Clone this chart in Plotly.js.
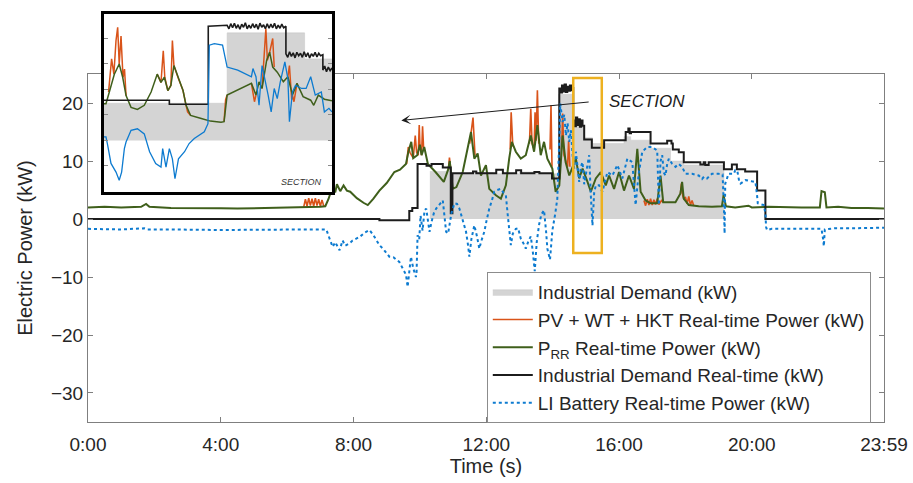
<!DOCTYPE html>
<html>
<head>
<meta charset="utf-8">
<script src="https://cdn.plot.ly/plotly-3.0.1.min.js"></script>
<style>html,body{margin:0;padding:0;background:#fff;}#chart{width:913px;height:483px;}</style>
</head>
<body>
<div id="chart"></div>
<script>
// ---------- tick labels ----------
var xTickVals = [0, 4, 8, 12, 16, 20, 23.983];
var xTickText = ['0:00', '4:00', '8:00', '12:00', '16:00', '20:00', '23:59'];
var yTickVals = [-30, -20, -10, 0, 10, 20];
var yTickText = ['\u221230', '\u221220', '\u221210', '0', '10', '20'];

// ---------- main chart series (time in hours, power in kW) ----------
// Industrial Demand (kW) - grey area
var demandT  = [10.3, 10.9, 11.5, 12.2, 13.0, 13.6, 14.18, 14.62, 14.95, 15.2, 16.15, 16.35, 16.95, 17.55, 17.95, 19.16];
var demandKW = [8.2, 7.8, 8.0, 7.8, 8.1, 7.8, 21.5, 16.0, 14.0, 13.0, 14.2, 13.6, 12.2, 10.0, 9.3, 0];

// PV + WT + HKT Real-time Power (kW) - only visible parts above P_RR (null = hidden under P_RR)
var renewT  = [6.5, 6.55, 6.6, 6.65, 6.7, 6.75, 6.8, 6.85, 6.9, 6.95, 7.0, 7.05, 7.1, 7.15, null,
               9.6, 9.65, 9.7, 9.8, 9.86, 9.9, 9.95, 9.98, 10.0, 10.05, 10.08, 10.11, 10.14, null,
               10.86, 10.89, 10.92, null,
               11.5, 11.6, 11.66, null,
               12.72, 12.75, 12.8, null,
               13.3, 13.34, 13.38, 13.44, 13.47, 13.5, 13.54, 13.58, null,
               13.92, 13.95, 13.98, null,
               14.27, 14.3, 14.34, 14.45, 14.48, 14.52, null,
               16.75, 16.8, 16.85, 16.9, 16.95, 17.0, 17.05, 17.1, 17.15, 17.2, 17.28, 17.33, null,
               17.85, 17.88, 17.92, 17.95, 18.0, 18.05, 18.1, 18.15, 18.2, 18.25];
var renewKW = [2.1, 3.4, 2.2, 3.6, 2.3, 3.5, 2.2, 3.6, 2.3, 3.4, 2.2, 3.3, 2.3, 2.2, null,
               9.5, 12.4, 11.5, 10.5, 14.4, 11.5, 11.0, 16.2, 12.8, 11.0, 16.0, 12.4, 12.0, null,
               8.5, 10.6, 9.0, null,
               13.0, 17.5, 11.0, null,
               12.0, 18.4, 12.5, null,
               13.0, 19.0, 13.0, 12.0, 18.4, 13.5, 22.2, 13.0, null,
               12.0, 19.6, 9.0, null,
               12.0, 18.2, 11.0, 9.0, 13.5, 9.0, null,
               3.2, 2.3, 3.4, 2.4, 3.5, 2.4, 3.3, 2.5, 3.5, 2.5, 3.2, 2.9, null,
               4.4, 6.1, 4.0, 3.5, 3.8, 2.6, 3.9, 2.4, 3.2, 2.3];

// P_RR Real-time Power (kW)
var prrT  = [0, 0.5, 1.0, 1.6, 1.75, 1.85, 2.5, 3.0, 3.5, 4.0, 4.5, 5.0, 5.5, 6.0, 6.5, 7.0, 7.15, 7.25, 7.35, 7.45, 7.5, 7.6, 7.7, 7.8, 7.9,
             8.1, 8.3, 8.43, 8.6, 8.78, 9.0, 9.23, 9.4, 9.58, 9.65, 9.74, 9.8, 9.92, 10.0, 10.05, 10.13, 10.24, 10.47, 10.72, 10.85, 10.9,
             10.99, 11.1, 11.29, 11.39, 11.54, 11.64, 11.74, 11.84, 11.99, 12.09, 12.29, 12.44, 12.59, 12.69, 12.77, 12.89, 13.04, 13.19,
             13.34, 13.44, 13.54, 13.64, 13.74, 13.84, 13.99, 14.09, 14.2, 14.3, 14.39, 14.5, 14.65, 14.7, 14.8, 14.9, 15.05, 15.15, 15.3,
             15.45, 15.6, 15.7, 15.85, 16.0, 16.15, 16.3, 16.45, 16.55, 16.65, 16.8, 16.95, 17.15, 17.25, 17.33, 17.5, 17.7, 17.85, 17.9,
             17.95, 18.1, 18.4, 18.8, 19.1, 19.15, 19.22, 19.5, 19.9, 20.0, 20.5, 21.0, 21.5, 22.05, 22.1, 22.2, 22.25, 22.6, 23.0, 23.5, 23.983];
var prrKW = [2.0, 2.1, 2.0, 2.1, 2.6, 2.1, 1.9, 1.9, 1.95, 1.85, 1.8, 1.85, 1.95, 2.0, 2.1, 2.1, 2.2, 3.5, 5.3, 4.6, 6.0, 4.8, 5.8, 4.9, 4.7,
             3.6, 2.8, 2.4, 3.5, 4.9, 6.2, 8.1, 8.5, 9.5, 11.5, 13.3, 10.5, 11.0, 12.8, 11.0, 12.4, 9.5, 8.1, 6.4, 8.5, 10.0,
             5.2, 5.5, 8.1, 11.0, 15.0, 10.4, 11.3, 7.5, 9.3, 5.2, 4.1, 3.5, 5.8, 10.4, 13.3, 11.6, 10.4, 11.0,
             14.4, 11.6, 16.2, 11.0, 13.3, 10.4, 8.7, 4.7, 5.8, 14.4, 9.8, 7.5, 9.8, 10.4, 7.0, 8.7, 6.4, 4.7, 7.0,
             8.1, 5.8, 7.5, 5.2, 8.1, 4.9, 7.5, 5.2, 12.1, 4.7, 3.2, 2.7, 2.7, 7.5, 2.9, 2.9, 2.9, 4.4, 6.4,
             3.5, 2.4, 2.2, 2.1, 2.2, 4.1, 2.2, 2.0, 2.3, 2.0, 2.1, 2.0, 2.0, 2.0, 4.8, 4.6, 2.0, 2.1, 1.9, 1.9, 1.8];

// Industrial Demand Real-time (kW)
var demandRtT  = [0, 8.78, 9.68, 9.77, 9.93, 10.2, 10.35, 10.69, 10.93, 10.98, 11.6, 11.7, 12.3, 12.5, 12.9, 13.05, 13.45, 13.6, 13.98,
                  14.2, 14.25, 14.28, 14.32, 14.36, 14.4, 14.44, 14.48, 14.52, 14.56, 14.6,
                  14.62, 14.66, 14.7, 14.74, 14.78, 14.82, 14.86, 14.9,
                  14.95, 15.18, 15.55, 16.2, 16.28, 16.32, 16.36, 16.95, 17.45, 17.58, 17.62, 17.8, 17.95, 18.45, 18.55, 18.6, 18.7,
                  19.16, 19.4, 19.55, 19.8, 20.16, 20.41, 23.983];
var demandRtKW = [0, -0.2, 1.4, 1.9, 9.5, 9.2, 9.5, 8.9, 1.0, 7.9, 8.2, 7.9, 8.5, 7.9, 8.4, 7.9, 8.1, 7.9, 7.0,
                  22.5, 21.8, 23.0, 22.0, 23.2, 21.9, 22.8, 22.1, 23.0, 22.2, 22.6,
                  17.0, 16.0, 17.5, 16.2, 17.2, 15.9, 17.0, 16.1,
                  13.7, 12.3, 13.6, 15.0, 15.6, 14.8, 15.0, 13.0, 13.5, 13.0, 12.0, 11.5, 9.8, 9.4, 9.8, 9.3, 9.8,
                  8.6, 9.4, 8.6, 8.2, 4.9, 0, 0];

// LI Battery Real-time Power (kW)
var batteryT  = [0, 0.5, 1.0, 1.7, 1.8, 2.5, 3.0, 4.0, 5.0, 6.0, 6.5, 7.0, 7.18, 7.28, 7.37, 7.45, 7.58, 7.67, 7.75, 7.88, 7.97, 8.18, 8.35,
                 8.48, 8.6, 8.78, 8.9, 9.08, 9.2, 9.38, 9.5, 9.58, 9.63, 9.68, 9.73, 9.8, 9.88, 9.9, 9.93, 9.98, 10.02, 10.08, 10.14,
                 10.19, 10.25, 10.29, 10.35, 10.42, 10.49, 10.6, 10.69, 10.74, 10.79, 10.85, 10.89, 10.95, 11.04, 11.12, 11.19, 11.3,
                 11.39, 11.45, 11.49, 11.55, 11.64, 11.72, 11.79, 11.85, 11.94, 12.0, 12.09, 12.17, 12.24, 12.33, 12.44, 12.52, 12.59,
                 12.65, 12.74, 12.8, 12.89, 12.96, 13.04, 13.12, 13.19, 13.27, 13.34, 13.4, 13.46, 13.52, 13.59, 13.66, 13.74, 13.8,
                 13.84, 13.92, 13.99, 14.08, 14.14, 14.19, 14.23, 14.3, 14.35, 14.4, 14.45, 14.5, 14.55, 14.6, 14.65, 14.7, 14.8, 14.85,
                 14.9, 14.95, 15.0, 15.1, 15.15, 15.2, 15.25, 15.3, 15.4, 15.5, 15.65, 15.8, 15.95, 16.1, 16.25, 16.4, 16.45, 16.5,
                 16.55, 16.6, 16.7, 16.85, 17.0, 17.15, 17.2, 17.25, 17.3, 17.35, 17.4, 17.45, 17.5, 17.6, 17.7, 17.8, 17.9, 18.0,
                 18.2, 18.4, 18.5, 18.56, 18.65, 18.8, 19.0, 19.12, 19.16, 19.18, 19.2, 19.3, 19.46, 19.5, 19.56, 19.62, 19.66, 19.81,
                 20.0, 20.11, 20.16, 20.18, 20.36, 20.41, 20.43, 20.46, 20.6, 21.0, 21.5, 22.0, 22.1, 22.15, 22.17, 22.2, 22.5, 23.0,
                 23.5, 23.983];
var batteryKW = [-1.7, -1.8, -1.8, -1.6, -1.8, -1.8, -1.85, -1.9, -1.85, -1.8, -1.75, -1.7, -1.8, -3.4, -4.8, -4.0, -5.4, -3.7, -4.6, -4.2, -3.7, -3.1, -2.3,
                 -1.9, -2.8, -4.5, -5.2, -6.5, -6.6, -7.4, -8.8, -9.6, -11.7, -9.0, -6.5, -8.5, -10.0, -9.1, -2.8, -3.5, 0.6, -2.0, 1.5,
                 1.8, -1.0, -2.2, -0.5, 1.0, 1.8, 2.5, 3.2, 0.5, -2.2, -2.5, -1.1, 1.0, 2.7, 2.6, 1.8, -0.2,
                 -2.2, -4.5, -6.5, -3.5, -1.1, -3.0, -5.1, -3.8, -2.2, -0.5, 1.8, 3.2, 4.7, 5.0, 5.2, 4.5, 4.1,
                 0.5, -4.5, -2.5, -1.7, -1.6, -3.4, -4.2, -5.1, -3.8, -3.0, -5.5, -9.0, -4.0, -1.0, 0.8, 1.5, -2.0,
                 -5.1, -7.0, -2.0, 1.0, 3.5, 12.0, 19.9, 16.7, 18.0, 14.4, 16.5, 13.3, 15.3, 11.0, 8.7, 11.6, 6.4, 9.0,
                 9.8, 6.0, 7.5, 11.0, 4.0, -1.1, 4.5, 5.8, 5.8, 4.7, 8.1, 7.5, 9.3, 7.0, 10.4, 9.8, 6.0, 2.4,
                 5.5, 8.1, 11.6, 12.4, 12.4, 11.8, 2.4, 10.0, 11.0, 8.0, 7.5, 9.5, 10.4, 9.5, 9.0, 9.5, 9.0, 7.8,
                 7.8, 7.5, 6.9, 7.3, 7.0, 7.8, 7.8, 7.7, 2.0, -2.5, 6.1, 7.8, 7.8, 8.4, 8.4, 6.5, 6.1, 6.7,
                 6.5, 6.4, 4.0, 2.7, 2.4, 1.0, -1.4, -1.9, -1.7, -1.7, -1.6, -1.7, -1.7, -3.5, -4.7, -1.8, -1.6, -1.6,
                 -1.5, -1.5];

// ---------- inset (SECTION zoom) series ----------
var insetDemandT  = [14.0, 14.81, 15.32, 15.5];
var insetDemandKW = [7.3, 21.1, 16.0, 16.0];

// step corners written explicitly, noisy plateaus
var insetDemandRtT  = [14.0, 14.43, 14.43, 14.686, 14.686,
                       14.81, 14.822, 14.834, 14.846, 14.858, 14.87, 14.882, 14.894, 14.906, 14.918, 14.93, 14.942, 14.954, 14.966,
                       14.978, 14.99, 15.002, 15.014, 15.026, 15.038, 15.05, 15.062, 15.074, 15.086, 15.098, 15.11, 15.122, 15.134,
                       15.146, 15.158, 15.17, 15.182, 15.197,
                       15.197, 15.209, 15.221, 15.233, 15.245, 15.257, 15.269, 15.281, 15.293, 15.305, 15.317, 15.329, 15.341,
                       15.353, 15.365, 15.377, 15.389, 15.401, 15.413, 15.425, 15.44,
                       15.44, 15.452, 15.464, 15.476, 15.488, 15.5];
var insetDemandRtKW = [7.9, 7.9, 7.1, 7.1, 22.4,
                       22.6, 21.9, 22.9, 22.1, 23.0, 22.0, 22.7, 21.8, 22.8, 22.2, 23.1, 21.9, 22.6, 22.0,
                       22.9, 22.1, 22.8, 21.8, 23.0, 22.2, 22.7, 21.9, 22.9, 22.0, 22.8, 22.1, 23.0, 21.9,
                       22.6, 22.0, 22.8, 22.1, 22.4,
                       17.0, 16.3, 17.4, 16.5, 17.2, 16.2, 17.3, 16.6, 17.1, 16.3, 17.4, 16.4, 17.2,
                       16.2, 17.0, 16.5, 17.3, 16.4, 17.1, 16.6, 16.8,
                       13.8, 14.6, 13.5, 14.4, 13.7, 14.2];

var insetPrrT  = [14.0, 14.013, 14.035, 14.068, 14.1, 14.123, 14.145, 14.178, 14.22, 14.265, 14.31, 14.35, 14.375, 14.397, 14.42, 14.44,
                  14.46, 14.49, 14.52, 14.54, 14.57, 14.64, 14.7, 14.77, 14.79, 14.81, 14.88, 14.97, 15.0, 15.02, 15.04, 15.07, 15.09,
                  15.11, 15.14, 15.18, 15.21, 15.24, 15.27, 15.31, 15.36, 15.38, 15.41, 15.45, 15.5];
var insetPrrKW = [7.2, 7.2, 9.5, 13.0, 15.0, 12.4, 8.8, 6.5, 6.1, 6.9, 9.5, 13.0, 11.4, 12.4, 9.8, 10.8,
                  14.7, 12.1, 9.8, 6.9, 4.9, 4.3, 3.8, 3.6, 3.7, 8.9, 9.9, 11.2, 8.9, 11.5, 10.2, 15.7, 17.3,
                  14.4, 13.4, 11.5, 12.5, 8.9, 11.2, 8.6, 7.9, 6.9, 8.9, 8.1, 7.8];

var insetRenewT  = [14.03, 14.05, 14.065, 14.079, 14.09, 14.1, 14.112, 14.125, 14.135, 14.145, null,
                    14.35, 14.375, 14.39, 14.4, 14.42, 14.44, 14.45, 14.46, 14.49, 14.52, 14.54, 14.55, 14.57, null,
                    14.79, 14.8, 14.81, null,
                    14.97, 14.99, 15.0, null,
                    15.04, 15.065, 15.075, 15.09, 15.11, 15.12, null,
                    15.21, 15.22, 15.235, 15.24, 15.25, 15.27];
var insetRenewKW = [9.5, 16.0, 13.0, 19.6, 22.2, 15.0, 20.5, 12.4, 14.0, 8.8, null,
                    13.0, 11.4, 17.6, 12.4, 9.8, 10.8, 19.6, 14.7, 12.1, 9.8, 6.9, 5.6, 4.9, null,
                    3.7, 8.0, 8.9, null,
                    11.2, 7.6, 8.9, null,
                    10.2, 21.9, 15.7, 17.3, 20.0, 14.4, null,
                    12.5, 14.7, 8.0, 8.9, 7.6, 11.2];

var insetBatteryT  = [14.0, 14.013, 14.024, 14.046, 14.079, 14.1, 14.116, 14.134, 14.145, 14.178, 14.22, 14.265, 14.3, 14.34, 14.375,
                      14.386, 14.408, 14.43, 14.45, 14.467, 14.49, 14.53, 14.56, 14.594, 14.66, 14.684, 14.693, 14.726, 14.78, 14.8,
                      14.81, 14.88, 14.945, 14.97, 14.98, 15.0, 15.02, 15.04, 15.08, 15.1, 15.12, 15.14, 15.16, 15.19, 15.21, 15.22,
                      15.24, 15.26, 15.3, 15.33, 15.36, 15.39, 15.43, 15.45, 15.48, 15.5];
var insetBatteryKW = [0.7, 0.7, -0.9, -4.5, -6.2, -7.8, -6.2, -1.6, -0.3, 2.0, 2.3, 1.3, -2.2, -4.5, -5.2,
                      -1.6, -5.2, -1.6, -3.6, -7.5, -3.6, -2.2, -0.6, 0.4, 1.7, 3.3, 18.7, 19.0, 18.7, 16.1,
                      14.4, 13.8, 12.8, 12.5, 14.1, 12.5, 6.9, 14.7, 8.9, 5.6, 10.2, 8.2, 11.5, 15.4, 12.1, 3.7,
                      9.5, 10.8, 10.2, 10.2, 12.5, 8.9, 9.5, 5.6, 6.3, 5.6];

// ---------- colours ----------
var cGrey = '#d4d4d4', cOrange = '#D95319', cGreen = '#3f5f1b', cBlack = '#1c1c1c', cBlue = '#0d7bd0', cSection = '#EDB120';
var fontFam = 'Liberation Sans, Arial, sans-serif';

var traces = [
  {x: demandT, y: demandKW, type: 'scatter', mode: 'lines', name: 'Industrial Demand (kW)',
   line: {shape: 'hv', color: '#c6c6c6', width: 0.5}, fill: 'tozeroy', fillcolor: cGrey, xaxis: 'x', yaxis: 'y'},
  {x: renewT, y: renewKW, type: 'scatter', mode: 'lines', name: 'PV + WT + HKT Real-time Power (kW)',
   line: {color: cOrange, width: 1.6}, connectgaps: false, xaxis: 'x', yaxis: 'y'},
  {x: prrT, y: prrKW, type: 'scatter', mode: 'lines', name: 'P<sub>RR</sub> Real-time Power (kW)',
   line: {color: cGreen, width: 2}, xaxis: 'x', yaxis: 'y'},
  {x: demandRtT, y: demandRtKW, type: 'scatter', mode: 'lines', name: 'Industrial Demand Real-time (kW)',
   line: {shape: 'hv', color: cBlack, width: 2}, xaxis: 'x', yaxis: 'y'},
  {x: batteryT, y: batteryKW, type: 'scatter', mode: 'lines', name: 'LI Battery Real-time Power (kW)',
   line: {color: cBlue, width: 2, dash: 'dot'}, xaxis: 'x', yaxis: 'y'},

  {x: insetDemandT, y: insetDemandKW, type: 'scatter', mode: 'lines', showlegend: false,
   line: {shape: 'hv', color: '#c6c6c6', width: 0.5}, fill: 'tozeroy', fillcolor: cGrey, xaxis: 'x2', yaxis: 'y2'},
  {x: insetRenewT, y: insetRenewKW, type: 'scatter', mode: 'lines', showlegend: false,
   line: {color: cOrange, width: 1.5}, connectgaps: false, xaxis: 'x2', yaxis: 'y2'},
  {x: insetPrrT, y: insetPrrKW, type: 'scatter', mode: 'lines', showlegend: false,
   line: {color: cGreen, width: 1.5}, xaxis: 'x2', yaxis: 'y2'},
  {x: insetDemandRtT, y: insetDemandRtKW, type: 'scatter', mode: 'lines', showlegend: false,
   line: {color: cBlack, width: 1.6}, xaxis: 'x2', yaxis: 'y2'},
  {x: insetBatteryT, y: insetBatteryKW, type: 'scatter', mode: 'lines', showlegend: false,
   line: {color: cBlue, width: 1.3}, xaxis: 'x2', yaxis: 'y2'}
];

var axisCommon = {showgrid: false, zeroline: false, showline: true, linecolor: '#7f7f7f', linewidth: 1,
                  ticks: 'inside', ticklen: 5, tickcolor: '#7f7f7f', mirror: 'allticks',
                  tickfont: {family: fontFam, size: 19, color: '#262626'}};

var layout = {
  width: 913, height: 483,
  margin: {l: 88, r: 29, t: 11, b: 61},
  paper_bgcolor: '#ffffff', plot_bgcolor: '#ffffff',
  font: {family: fontFam, color: '#262626'},
  xaxis: Object.assign({}, axisCommon, {domain: [0, 1], anchor: 'y', range: [0, 23.983],
         tickmode: 'array', tickvals: xTickVals, ticktext: xTickText, ticklabelstandoff: 5,
         title: {text: 'Time (s)', font: {size: 20, color: '#262626'}, standoff: 4}}),
  yaxis: Object.assign({}, axisCommon, {domain: [0, 0.8467], anchor: 'x', range: [-35, 25],
         tickmode: 'array', tickvals: yTickVals, ticktext: yTickText,
         title: {text: 'Electric Power (kW)', font: {size: 20, color: '#262626'}, standoff: 12}}),
  xaxis2: {domain: [0.0201, 0.3065], anchor: 'y2', range: [14.0, 15.5], showgrid: false, zeroline: false,
           showline: true, linecolor: '#000', linewidth: 3, mirror: true, ticks: '', showticklabels: false},
  yaxis2: {domain: [0.5596, 0.9927], anchor: 'x2', range: [-10.1, 24.8], showgrid: false, zeroline: false,
           showline: true, linecolor: '#000', linewidth: 3, mirror: 'allticks', ticks: 'inside', ticklen: 4,
           tickcolor: '#8a8a8a', tickvals: [-5, 0, 5, 10, 15, 20], showticklabels: false},
  legend: {x: 0.501, y: 0.365, xanchor: 'left', yanchor: 'top', bgcolor: '#ffffff', bordercolor: '#8c8c8c', borderwidth: 1,
           font: {family: fontFam, size: 19, color: '#262626'}, itemwidth: 40, tracegroupgap: 0},
  shapes: [
    {type: 'rect', xref: 'x', yref: 'y', x0: 14.62, x1: 15.48, y0: -5.86, y1: 24.3, line: {color: cSection, width: 2.5}}
  ],
  annotations: [
    {xref: 'x', yref: 'y', axref: 'x', ayref: 'y', x: 9.44, y: 17.0, ax: 15.13, ay: 20.2, text: '', showarrow: true,
     arrowhead: 3, arrowsize: 1.6, arrowwidth: 1, arrowcolor: '#1c1c1c'},
    {xref: 'x', yref: 'y', x: 16.84, y: 20.3, text: 'SECTION', showarrow: false,
     font: {family: fontFam, size: 17, color: '#1c1c1c', style: 'italic'}},
    {xref: 'x2', yref: 'y2', x: 15.30, y: -8.08, text: 'SECTION', showarrow: false,
     font: {family: fontFam, size: 9, color: '#333333', style: 'italic'}}
  ],
  showlegend: true
};

Plotly.newPlot('chart', traces, layout, {staticPlot: true, displayModeBar: false});
</script>
</body>
</html>
